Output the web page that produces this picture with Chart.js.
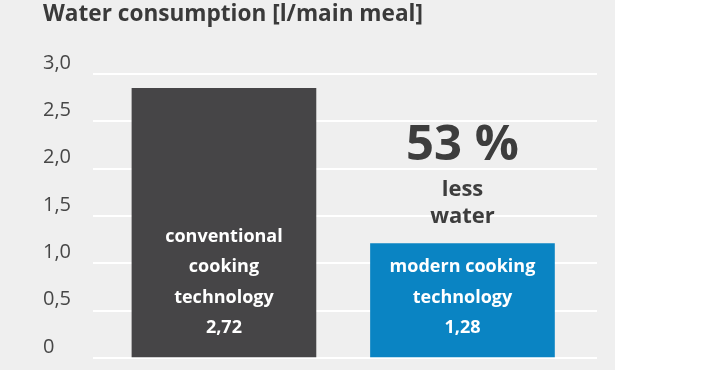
<!DOCTYPE html>
<html><head><meta charset="utf-8">
<script src="https://cdn.jsdelivr.net/npm/chart.js@4"></script>
<style>
html,body{margin:0;padding:0;background:#fff;}
#wrap{width:615px;height:370px;background:#efefef;}
canvas{display:block;}
</style></head><body>
<div id="wrap"><canvas id="c" width="615" height="370"></canvas></div>
<script>
const chartTitle = "Water consumption [l/main meal]";
const categories = [["conventional", "cooking", "technology"], ["modern cooking", "technology"]];
const valueLabels = ["2,72", "1,28"];
const barHeights = [2.85, 1.21];
const yTickLabels = ["0", "0,5", "1,0", "1,5", "2,0", "2,5", "3,0"];
const calloutBig = "53 %";
const calloutSmall = ["less", "water"];
const barColors = ["#464547", "#0a84c3"];

const FONT = '"Open Sans", "Noto Sans", sans-serif';

const labelPlugin = {
  id: 'barLabels',
  afterDatasetsDraw(chart) {
    const ctx = chart.ctx;
    const meta = chart.getDatasetMeta(0);
    ctx.save();
    ctx.textAlign = 'center';
    ctx.textBaseline = 'middle';
    ctx.fillStyle = '#ffffff';
    ctx.font = 'bold 18px ' + FONT;
    const lh = 30.5;
    meta.data.forEach((bar, i) => {
      const lines = categories[i].concat([valueLabels[i]]);
      const lastY = bar.base - 29;
      lines.forEach((t, j) => {
        ctx.fillText(t, bar.x, lastY - (lines.length - 1 - j) * lh);
      });
    });
    const b = meta.data[1];
    ctx.fillStyle = '#3d3d3d';
    ctx.font = 'bold 22px ' + FONT;
    ctx.fillText(calloutSmall[1], b.x, b.y - 27);
    ctx.fillText(calloutSmall[0], b.x, b.y - 54);
    ctx.font = 'bold 49px ' + FONT;
    ctx.fillText(calloutBig, b.x, b.y - 97);
    ctx.restore();
  }
};

new Chart(document.getElementById('c'), {
  type: 'bar',
  data: {
    datasets: [{
      data: barHeights.map((v, i) => ({ x: i, y: v })),
      backgroundColor: barColors,
      borderWidth: 0,
      barThickness: 184
    }]
  },
  options: {
    responsive: false,
    devicePixelRatio: 1,
    animation: false,
    layout: { padding: { left: 43, right: 18, top: 0, bottom: 12 } },
    plugins: {
      legend: { display: false },
      tooltip: { enabled: false },
      title: {
        display: true,
        text: chartTitle,
        align: 'start',
        color: '#3a3a3a',
        font: { family: FONT, size: 22.6, weight: 'bold' },
        padding: { top: 1, bottom: 46 }
      }
    },
    scales: {
      x: {
        type: 'linear',
        display: false,
        offset: false,
        grid: { offset: false },
        min: -0.549,
        max: 1.564
      },
      y: {
        min: 0,
        max: 3,
        border: { display: false },
        grid: { color: '#ffffff', lineWidth: 2, drawTicks: false },
        afterFit(scale) { scale.width = 50; },
        ticks: {
          stepSize: 0.5,
          crossAlign: 'far',
          padding: 0,
          labelOffset: -11,
          color: '#474747',
          font: { family: FONT, size: 20 },
          callback: (v, i) => yTickLabels[i]
        }
      }
    }
  },
  plugins: [labelPlugin]
});
</script>
</body></html>
